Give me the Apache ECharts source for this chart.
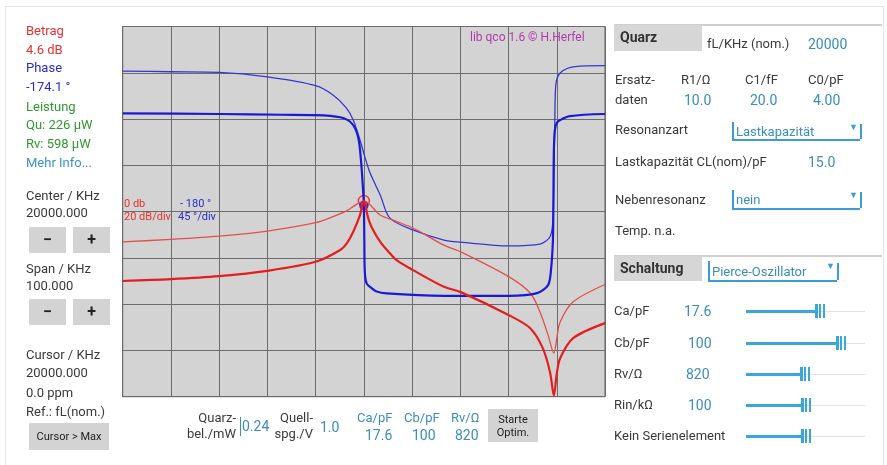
<!DOCTYPE html>
<html><head><meta charset="utf-8">
<script src="https://cdn.jsdelivr.net/npm/echarts@6/dist/echarts.min.js"></script>
<style>
html,body{margin:0;padding:0;width:887px;height:465px;overflow:hidden;background:#fff;font-family:Roboto,"Noto Sans",sans-serif;}
#frame{position:absolute;left:5px;top:6px;width:877px;height:460px;border:1px solid #e6e6e6;}
#chart{position:absolute;left:0;top:0;width:887px;height:465px;z-index:1;}
#ui{position:absolute;left:0;top:0;width:887px;height:465px;z-index:2;pointer-events:none;}
.t{position:absolute;font-size:13px;line-height:16px;height:16px;white-space:nowrap;color:#3a3a3a;}
.r{color:#e8302f}.b{color:#2b2bcc}.g{color:#2f9a2f}.i{color:#3a93c8}.c{color:#3a8dbd}
.big{font-size:14px}.sm{font-size:11px}.bold{font-weight:bold;font-size:14px;color:#333}
.btn{position:absolute;background:#d3d3d3;color:#222;text-align:center;font-weight:bold;}
.box{position:absolute;}
</style></head>
<body>
<div id="frame"></div>
<div id="chart"></div>
<div id="ui"></div>
<script>
// ---- chart data (frequency in kHz, magnitude in dB, phase in degrees) ----
const freqMagLoaded = [19950.0,19960.0,19970.0,19980.0,19990.0,19995.1,19996.5,19997.8,19999.2,20000.0,20000.9,20001.7,20003.4,20005.0,20006.8,20010.2,20016.6,20020.1,20030.1,20034.5,20037.1,20038.6,20039.4,20040.0,20040.7,20043.4,20050.0];
const magLoaded     = [-30.0,-29.2,-27.9,-25.6,-21.7,-16.6,-13.6,-8.7,-1.5,4.6,-2.8,-7.1,-13.1,-17.1,-21.0,-25.3,-32.5,-34.8,-44.8,-50.4,-59.0,-69.4,-79.5,-70.0,-63.4,-54.7,-48.2];

const freqMagCrystal = [19950.0,19960.0,19970.0,19980.0,19990.0,19994.4,19996.4,19998.0,20000.0,20003.4,20006.8,20010.2,20016.6,20020.1,20030.1,20034.5,20036.5,20038.2,20039.4,20040.0,20040.7,20043.4,20050.0];
const magCrystal     = [-13.1,-12.0,-10.6,-8.4,-4.8,-1.5,0.3,2.5,4.6,-1.5,-4.3,-7.1,-14.5,-17.4,-28.2,-35.2,-43.3,-53.4,-61.2,-54.7,-47.7,-39.0,-31.5];

const freqPhaseLoaded = [19950.0,19970.0,19983.0,19990.0,19995.1,19997.5,19998.8,19999.4,19999.8,20000.0,20000.1,20000.2,20000.6,20001.6,20002.5,20004.7,20016.6,20030.1,20035.9,20038.2,20038.8,20039.2,20039.3,20039.4,20039.6,20040.0,20040.7,20042.7,20050.0];
const phaseLoaded     = [-84.5,-85.1,-85.8,-86.1,-88.3,-94.2,-107.2,-129.9,-155.9,-174.1,-207.7,-238.9,-250.0,-254.4,-257.4,-259.6,-261.9,-261.9,-259.3,-251.5,-236.9,-207.7,-168.8,-120.2,-100.7,-93.9,-91.0,-87.1,-85.1];

const freqPhaseCrystal = [19950.0,19960.0,19970.0,19980.0,19990.0,19993.6,19996.4,19997.8,19999.2,20000.2,20001.3,20003.4,20005.4,20010.3,20016.6,20020.1,20030.1,20036.5,20038.6,20039.2,20039.4,20039.6,20039.8,20040.7,20043.8,20050.0];
const phaseCrystal     = [-43.3,-44.0,-44.6,-49.0,-57.5,-66.6,-79.3,-91.0,-110.4,-126.7,-142.5,-163.9,-186.3,-198.0,-207.7,-209.7,-213.3,-211.6,-204.5,-188.3,-149.3,-91.0,-56.9,-45.2,-39.1,-38.1];

const cursorFreq = 20000.0;
const cursorMag = 4.6;
const cursorPhase = -174.1;

const zip = (a, b) => a.map((v, k) => [v, b[k]]);

const chart = echarts.init(document.getElementById('chart'), null, {renderer: 'canvas'});
const SM = 0.3;
chart.setOption({
  animation: false,
  grid: {left: 122.7, top: 26.5, width: 482.3, height: 370.2, show: true, backgroundColor: '#d3d3d3', borderColor: '#5a5a5a', borderWidth: 1},
  xAxis: {type: 'value', min: 19950, max: 20050, interval: 10,
    axisLabel: {show: false}, axisTick: {show: false}, axisLine: {show: false},
    splitLine: {show: true, lineStyle: {color: '#6c6c6c', width: 1}}},
  yAxis: [
    {type: 'value', min: -80, max: 80, interval: 20,
     axisLabel: {show: false}, axisTick: {show: false}, axisLine: {show: false},
     splitLine: {show: true, lineStyle: {color: '#6c6c6c', width: 1}}},
    {type: 'value', min: -360, max: 0, interval: 45,
     axisLabel: {show: false}, axisTick: {show: false}, axisLine: {show: false}, splitLine: {show: false}}
  ],
  series: [
    {type: 'line', yAxisIndex: 1, data: zip(freqPhaseCrystal, phaseCrystal), showSymbol: false, smooth: SM,
     lineStyle: {color: '#3636d2', width: 1.3}},
    {type: 'line', yAxisIndex: 0, data: zip(freqMagCrystal, magCrystal), showSymbol: false, smooth: SM,
     lineStyle: {color: '#e2504a', width: 1.3}},
    {type: 'line', yAxisIndex: 1, data: zip(freqPhaseLoaded, phaseLoaded), showSymbol: false, smooth: SM,
     lineStyle: {color: '#1a1ad4', width: 2.2}},
    {type: 'line', yAxisIndex: 0, data: zip(freqMagLoaded, magLoaded), showSymbol: false, smooth: SM,
     lineStyle: {color: '#e41e1e', width: 2.2}},
    {type: 'scatter', yAxisIndex: 0, data: [[cursorFreq, cursorMag]], symbol: 'circle', symbolSize: 11,
     itemStyle: {color: 'rgba(0,0,0,0)', borderColor: '#e41e1e', borderWidth: 1.5}},
    {type: 'scatter', yAxisIndex: 1, data: [[cursorFreq, cursorPhase]], symbol: 'circle', symbolSize: 8,
     itemStyle: {color: '#c8286a', borderColor: '#1a1ad4', borderWidth: 1.5}}
  ]
});

// ---- UI (texts and controls around the plot) ----
const ui = document.getElementById('ui');
function T(x, y, txt, cls, align) {
  const d = document.createElement('div');
  d.className = 't ' + (cls || '');
  d.textContent = txt;
  if (align === 'right') { d.style.right = (887 - x) + 'px'; d.style.textAlign = 'right'; }
  else d.style.left = x + 'px';
  d.style.top = (y - 8) + 'px';
  ui.appendChild(d);
  return d;
}
function B(x, y, w, h, txt, fs) {
  const d = document.createElement('div');
  d.className = 'btn';
  Object.assign(d.style, {left: x + 'px', top: y + 'px', width: w + 'px', height: h + 'px', lineHeight: h + 'px', fontSize: (fs || 16) + 'px'});
  d.innerHTML = txt;
  ui.appendChild(d);
  return d;
}
function R(x, y, w, h, bg) {
  const d = document.createElement('div');
  d.className = 'box';
  Object.assign(d.style, {left: x + 'px', top: y + 'px', width: w + 'px', height: h + 'px', background: bg});
  ui.appendChild(d);
  return d;
}

// plot annotations
T(124, 204, '0 db', 'r sm');
T(124, 217, '20 dB/div', 'r sm');
T(180, 204, '- 180 °', 'b sm');
T(178, 217, '45 °/div', 'b sm');
const lib = T(470, 37, 'lib qco 1.6  © H.Herfel', ''); lib.style.color = '#b03ab0'; lib.style.fontSize = '12px';

// left panel
T(26, 31, 'Betrag', 'r'); T(26, 50, '4.6 dB', 'r');
T(26, 68, 'Phase', 'b'); T(26, 87, '-174.1 °', 'b');
T(26, 107, 'Leistung', 'g'); T(26, 125, 'Qu: 226 µW', 'g'); T(26, 144, 'Rv: 598 µW', 'g');
T(26, 163, 'Mehr Info...', 'i');
T(26, 196, 'Center / KHz'); T(26, 213, '20000.000');
B(29, 227, 37, 26, '&minus;'); B(73, 227, 37, 26, '+');
T(26, 269, 'Span / KHz'); T(26, 286, '100.000');
B(29, 299, 37, 26, '&minus;'); B(73, 299, 37, 26, '+');
T(26, 355, 'Cursor / KHz'); T(26, 373, '20000.000'); T(26, 393, '0.0 ppm'); T(26, 412, 'Ref.: fL(nom.)');
const cm = B(29, 423, 80, 27, 'Cursor &gt; Max', 11); cm.style.fontWeight = 'normal';

// bottom controls
T(236, 418, 'Quarz-', '', 'right'); T(236, 434, 'bel./mW', '', 'right');
R(240, 417, 1, 19, '#3a8dbd');
T(242, 426, '0.24', 'c big');
T(313, 418, 'Quell-', '', 'right'); T(313, 434, 'spg./V', '', 'right');
T(320, 427, '1.0', 'c big');
T(357, 418, 'Ca/pF', 'c'); T(365, 435, '17.6', 'c big');
T(404, 418, 'Cb/pF', 'c'); T(412, 435, '100', 'c big');
T(451, 418, 'Rv/Ω', 'c'); T(455, 435, '820', 'c big');
const so = B(488, 409, 50, 33, 'Starte<br>Optim.', 11);
Object.assign(so.style, {fontWeight: 'normal', lineHeight: '13px', paddingTop: '4px', height: '29px'});

// right panel
R(614, 24, 268, 2, '#cfcfcf');
R(614, 25, 88, 26, '#d6d6d6');
T(620, 37, 'Quarz', 'bold');
T(707, 44, 'fL/KHz (nom.)'); T(808, 44, '20000', 'c big');
T(615, 80, 'Ersatz-'); T(615, 100, 'daten');
T(681, 80, 'R1/Ω'); T(684, 100, '10.0', 'c big');
T(745, 80, 'C1/fF'); T(750, 100, '20.0', 'c big');
T(808, 80, 'C0/pF'); T(813, 100, '4.00', 'c big');
T(615, 130, 'Resonanzart');
function dropdown(x1, y1, x2, y2, txt) {
  R(x1, y1, 1.5, y2 - y1, '#3a9fd0');
  R(x1, y2, x2 - x1, 1.5, '#3a9fd0');
  R(x2, y1 + 2, 1.5, y2 - y1 - 2, '#3a9fd0');
  T(x1 + 4, (y1 + y2) / 2 + 1, txt, 'c');
  const a = T(x2 - 11, y1 + 5, '▼', ''); a.style.fontSize = '9px'; a.style.color = '#3a9fd0';
}
dropdown(732, 122, 860, 139, 'Lastkapazität');
T(615, 162, 'Lastkapazität CL(nom)/pF'); T(808, 162, '15.0', 'c big');
T(615, 200, 'Nebenresonanz');
dropdown(732, 190, 860, 208, 'nein');
T(615, 231, 'Temp. n.a.');
R(614, 255, 268, 2, '#cfcfcf');
R(614, 256, 88, 25, '#d6d6d6');
T(620, 268, 'Schaltung', 'bold');
dropdown(708, 261, 837, 280, 'Pierce-Oszillator');
function slider(y, fillTo) {
  R(746, y - 0.5, 119, 1, '#e2e2e2');
  R(746, y - 1.5, fillTo - 746, 3, '#38a8d8');
  R(fillTo, y - 7, 2.5, 14, '#38a8d8');
  R(fillTo + 4, y - 7, 2, 14, '#38a8d8');
  R(fillTo + 7.5, y - 7, 2, 14, '#38a8d8');
}
T(614, 311, 'Ca/pF'); T(684, 311, '17.6', 'c big'); slider(311, 815);
T(614, 343, 'Cb/pF'); T(688, 343, '100', 'c big'); slider(343, 836);
T(614, 374, 'Rv/Ω'); T(686, 374, '820', 'c big'); slider(374, 800);
T(614, 405, 'Rin/kΩ'); T(688, 405, '100', 'c big'); slider(405, 801);
T(614, 436, 'Kein Serienelement'); slider(436, 801);
</script>
</body></html>
